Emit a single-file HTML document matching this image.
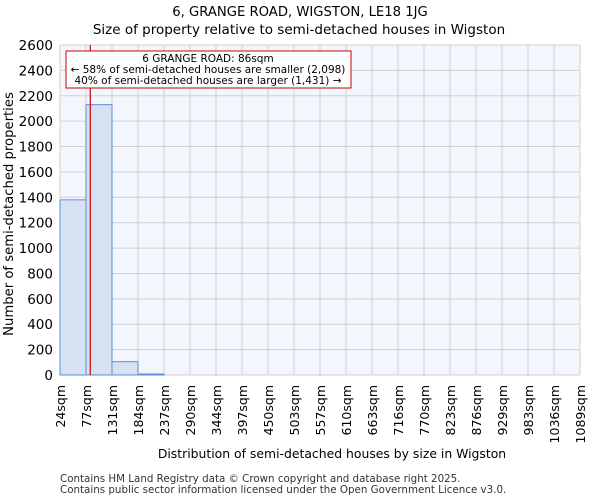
<!DOCTYPE html>
<html><head><meta charset="utf-8"><style>
body{margin:0;background:#fff;font-family:"DejaVu Sans","Liberation Sans",sans-serif}
</style></head><body>
<svg width="600" height="500" xmlns="http://www.w3.org/2000/svg" font-family="DejaVu Sans, Liberation Sans, sans-serif">
<text x="300" y="16" text-anchor="middle" font-size="13.2">6, GRANGE ROAD, WIGSTON, LE18 1JG</text>
<text x="299" y="34" text-anchor="middle" font-size="13.5">Size of property relative to semi-detached houses in Wigston</text>
<rect x="60" y="45" width="520" height="330" fill="#f3f6fc"/>
<g id="grid"></g>
<g id="bars"></g>
<g id="axes"></g>
<line id="marker" stroke="#cc0000" stroke-width="1.2"/>
<rect x="66" y="51" width="285" height="37" fill="#fff" stroke="#cc0000" stroke-width="1"/>
<text x="208" y="62" text-anchor="middle" font-size="10.5">6 GRANGE ROAD: 86sqm</text>
<text x="208" y="73" text-anchor="middle" font-size="10.5">← 58% of semi-detached houses are smaller (2,098)</text>
<text x="208" y="84" text-anchor="middle" font-size="10.5">40% of semi-detached houses are larger (1,431) →</text>
<text transform="translate(13,214) rotate(-90)" text-anchor="middle" font-size="13.2">Number of semi-detached properties</text>
<text x="332" y="458" text-anchor="middle" font-size="12.4">Distribution of semi-detached houses by size in Wigston</text>
<text x="60" y="482" font-size="10.3" fill="#333">Contains HM Land Registry data © Crown copyright and database right 2025.</text>
<text x="60" y="493" font-size="10.3" fill="#333">Contains public sector information licensed under the Open Government Licence v3.0.</text>
</svg>
<script>
const binLabels=["24sqm","77sqm","131sqm","184sqm","237sqm","290sqm","344sqm","397sqm","450sqm","503sqm","557sqm","610sqm","663sqm","716sqm","770sqm","823sqm","876sqm","929sqm","983sqm","1036sqm","1089sqm"];
const counts=[1380,2130,105,8,0,0,0,0,0,0,0,0,0,0,0,0,0,0,0,0];
const yTicks=[0,200,400,600,800,1000,1200,1400,1600,1800,2000,2200,2400,2600];
const markerValue=86;
const X0=60,X1=580,Y0=375,Y1=45,minV=24,maxV=1089,yMax=2600;
const bw=(X1-X0)/counts.length;
const xb=i=>X0+i*bw;
const xv=v=>X0+(v-minV)/(maxV-minV)*(X1-X0);
const y=v=>Y0-v/yMax*(Y0-Y1);
const NS="http://www.w3.org/2000/svg";
function mk(t,a,p){const e=document.createElementNS(NS,t);for(const k in a)e.setAttribute(k,a[k]);p.appendChild(e);return e;}
const grid=document.getElementById('grid'),bars=document.getElementById('bars'),axes=document.getElementById('axes');
yTicks.forEach(t=>{
 const l=mk('line',{x1:X0,x2:X1,y1:y(t),y2:y(t),stroke:'#d0d0d0','stroke-width':1},grid);
 
 
 const tx=mk('text',{x:X0-7,y:y(t)+5,'text-anchor':'end','font-size':13.5},axes);
 tx.textContent=t;
 
 
});
binLabels.forEach((s,i)=>{
 const l=mk('line',{x1:xb(i),x2:xb(i),y1:Y0,y2:Y1,stroke:'#d0d0d0','stroke-width':1},grid);
 
 
 const tx=mk('text',{transform:`translate(${xb(i)+5},385) rotate(-90)`,'text-anchor':'end','font-size':12.5},axes);
 tx.textContent=s;
 
 
});
counts.forEach((c,i)=>{
 if(c<=0)return;
 const r=mk('rect',{x:xb(i),y:y(c),width:bw,height:Y0-y(c),fill:'#d6e2f4',stroke:'#5b8fd9','stroke-width':1},bars);
 
 
});
const m=document.getElementById('marker');
m.setAttribute('x1',xv(markerValue));m.setAttribute('x2',xv(markerValue));
m.setAttribute('y1',Y1);m.setAttribute('y2',Y0);
</script>
</body></html>
